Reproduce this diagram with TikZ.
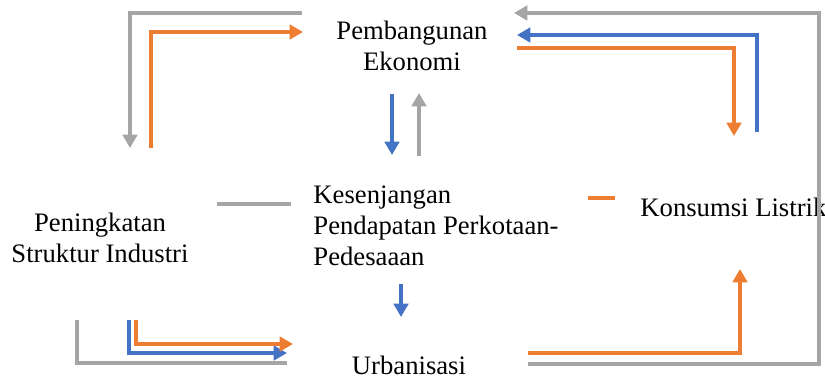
\documentclass[tikz,border=0pt]{standalone}
\usepackage{fontspec}
\setmainfont{Liberation Serif}
\usetikzlibrary{arrows.meta}
\definecolor{lnGray}{RGB}{165,165,165}
\definecolor{lnOrange}{RGB}{237,125,49}
\definecolor{lnBlue}{RGB}{68,114,196}
\def\lw{1.8pt}

\begin{document}
\begin{tikzpicture}[x=0.45pt,y=-0.45pt,
    label/.style={inner sep=0pt,font=\fontsize{12}{14}\selectfont},
    link/.style={line width=\lw},
    arr/.style={link,-{Triangle[width=6.5pt,length=6pt]}}]
    \useasboundingbox (0,0) rectangle (825,379);

    \node[label,align=center] (ekonomi) at (412,46) {Pembangunan\\Ekonomi};
    \node[label,align=center] (industri) at (100,238) {Peningkatan\\Struktur Industri};
    \node[label,align=left,anchor=west] (gap) at (313,226) {Kesenjangan\\Pendapatan Perkotaan-\\Pedesaaan};
    \node[label,anchor=west] (listrik) at (640,207) {Konsumsi Listrik};
    \node[label] (urban) at (409,365) {Urbanisasi};

    % ends of the connectors
    \coordinate (gA) at (302,13);  \coordinate (gB) at (130,148);
    \coordinate (oA) at (151,148); \coordinate (oB) at (303,32);
    \coordinate (gC) at (528,364); \coordinate (gD) at (819,13); \coordinate (gE) at (514,13);
    \coordinate (bA) at (757,132); \coordinate (bB) at (517,35);
    \coordinate (oC) at (517,48);  \coordinate (oD) at (734,136);
    \coordinate (bC) at (392,94);  \coordinate (bD) at (392,155);
    \coordinate (gF) at (419,156); \coordinate (gG) at (419,93);
    \coordinate (gH) at (217,204); \coordinate (gI) at (291,204);
    \coordinate (oE) at (588,198); \coordinate (oF) at (615,198);
    \coordinate (bE) at (401,284); \coordinate (bF) at (401,317);
    \coordinate (gJ) at (77,320);  \coordinate (gK) at (287,363);
    \coordinate (bG) at (129,320); \coordinate (bH) at (287,353);
    \coordinate (oG) at (136,320); \coordinate (oH) at (293,344);
    \coordinate (oI) at (528,353); \coordinate (oJ) at (740,269);

    \begin{scope}[lnGray]
        \draw[arr] (gA) -| (gB);
        \draw[arr] (gC) -| (gD) -- (gE);
        \draw[arr] (gF) -- (gG);
        \draw[link] (gH) -- (gI);
        \draw[link] (gJ) |- (gK);
    \end{scope}
    \begin{scope}[lnBlue]
        \draw[arr] (bA) |- (bB);
        \draw[arr] (bC) -- (bD);
        \draw[arr] (bE) -- (bF);
        \draw[arr] (bG) |- (bH);
    \end{scope}
    \begin{scope}[lnOrange]
        \draw[arr] (oA) |- (oB);
        \draw[arr] (oC) -| (oD);
        \draw[link] (oE) -- (oF);
        \draw[arr] (oG) |- (oH);
        \draw[arr] (oI) -| (oJ);
    \end{scope}
\end{tikzpicture}
\end{document}
